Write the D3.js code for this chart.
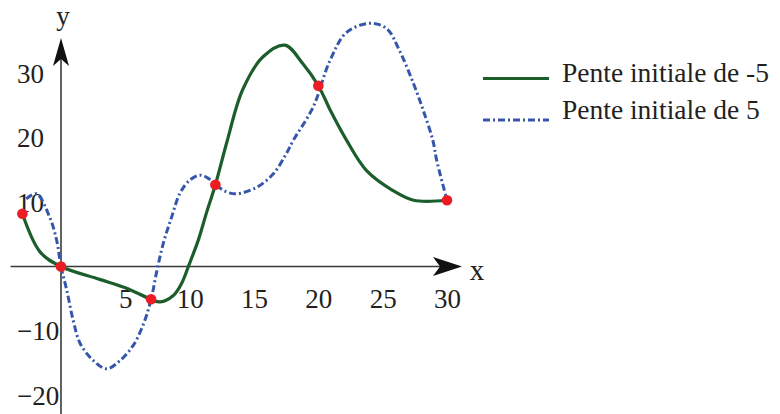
<!DOCTYPE html>
<html>
<head>
<meta charset="utf-8">
<script src="https://cdn.jsdelivr.net/npm/d3@7"></script>
<style>
  html, body { margin: 0; padding: 0; background: #fff; }
  svg { display: block; }
  text { font-family: "Liberation Serif", "Times New Roman", serif; fill: #231f20; }
</style>
</head>
<body>
<svg id="chart" width="780" height="414"></svg>
<script>
// ---- data ----
const xTickValues = [5, 10, 15, 20, 25, 30];
const yTickValues = [30, 20, 10, -10, -20];

const greenX = [-3, -1.6, 0, 3, 5, 7, 7.7, 8.73, 9.38, 9.9, 10.67, 11.3, 12, 12.9, 14.1, 15.7, 17.4, 18.8, 20, 21, 22.2, 23.75, 25.8, 27.4, 30];
const greenY = [8.2, 2.2, 0, -2.0, -3.3, -5.1, -5.5, -4.5, -2.6, 0, 4.1, 8.3, 12.7, 19.4, 27.4, 32.6, 34.4, 31.5, 28.1, 24, 19.6, 14.9, 11.8, 10.3, 10.3];

const blueX = [-2.7, -1.9, -0.85, -0.33, 0, 0.45, 0.95, 1.5, 2.5, 3.55, 4.6, 5.6, 6.4, 7, 7.44, 7.95, 8.6, 9.25, 10.0, 10.8, 11.45, 12, 12.87, 13.65, 15.2, 16.5, 17.5, 18.05, 19.6, 20.9, 22.2, 24, 25.3, 26.3, 27.4, 28.15, 28.9, 29.2, 30];
const blueY = [10.5, 11.3, 7.5, 4.0, 0, -3.7, -8.4, -12, -14.6, -15.9, -14.6, -12.3, -9.0, -5.1, -0.8, 3.6, 7.7, 11.4, 13.4, 14.2, 13.7, 12.7, 11.6, 11.3, 12.3, 14.4, 17.5, 19.6, 24.8, 32, 36.4, 37.8, 37, 33.6, 28.4, 24.3, 19.6, 16.5, 10.3];

const dotX = [-3, 0, 7, 12, 20, 30];
const dotY = [8.2, 0, -5.1, 12.7, 28.1, 10.3];

const seriesNames = ["Pente initiale de -5", "Pente initiale de 5"];
const seriesColors = ["#1b5e2b", "#3556aa"];
const axisLabels = ["x", "y"];

// ---- scales ----
const svg = d3.select("#chart");
const x = d3.scaleLinear().domain([0, 30]).range([61, 447]);
const y = d3.scaleLinear().domain([0, 30]).range([266.5, 73.5]);

const axisColor = "#3a3a3a";
const x0 = x(0), y0 = y(0);
const xEnd = 462, yTop = 38;

// ---- axes lines ----
svg.append("line").attr("x1", 10.5).attr("x2", xEnd - 10).attr("y1", y0).attr("y2", y0)
  .attr("stroke", axisColor).attr("stroke-width", 1.6);
svg.append("line").attr("x1", x0).attr("x2", x0).attr("y1", 414).attr("y2", yTop + 10)
  .attr("stroke", axisColor).attr("stroke-width", 1.6);

// arrowheads
svg.append("path")
  .attr("d", `M${xEnd},${y0} L${xEnd - 29},${y0 - 9.5} L${xEnd - 22},${y0} L${xEnd - 29},${y0 + 9.5} Z`)
  .attr("fill", "#111");
svg.append("path")
  .attr("d", `M${x0},${yTop} L${x0 - 8},${yTop + 28} L${x0},${yTop + 21} L${x0 + 8},${yTop + 28} Z`)
  .attr("fill", "#111");

// axis titles
svg.append("text").attr("x", 477).attr("y", 280).attr("text-anchor", "middle")
  .attr("font-size", 29).text(axisLabels[0]);
svg.append("text").attr("x", 63).attr("y", 25).attr("text-anchor", "middle")
  .attr("font-size", 27).text(axisLabels[1]);

// tick labels via d3 axes (no tick lines, no domain)
const xAxis = d3.axisBottom(x).tickValues(xTickValues).tickSize(0).tickPadding(0);
const gx = svg.append("g").attr("transform", `translate(0,${y0})`).call(xAxis);
gx.select(".domain").remove();
gx.selectAll("text").attr("font-size", 27).attr("dy", null).attr("y", 41.5)
  .style("font-family", "'Liberation Serif', serif").attr("fill", "#231f20");

const yAxis = d3.axisLeft(y).tickValues(yTickValues).tickSize(0).tickPadding(0);
const gy = svg.append("g").attr("transform", `translate(${x0},0)`).call(yAxis);
gy.select(".domain").remove();
gy.selectAll("text").attr("font-size", 27).attr("text-anchor", "start")
  .attr("x", 17 - x0).attr("dy", "0.33em")
  .style("font-family", "'Liberation Serif', serif").attr("fill", "#231f20");

// ---- curves ----
const line = d3.line().x(d => x(d[0])).y(d => y(d[1])).curve(d3.curveCatmullRom.alpha(0.5));
const greenData = greenX.map((v, i) => [v, greenY[i]]);
const blueData = blueX.map((v, i) => [v, blueY[i]]);

svg.append("path").datum(blueData).attr("d", line)
  .attr("fill", "none").attr("stroke", seriesColors[1]).attr("stroke-width", 3)
  .attr("stroke-dasharray", "7,3,2,3");
svg.append("path").datum(greenData).attr("d", line)
  .attr("fill", "none").attr("stroke", seriesColors[0]).attr("stroke-width", 3.2);

// ---- dots ----
svg.selectAll("circle.pt").data(dotX.map((v, i) => [v, dotY[i]])).enter()
  .append("circle").attr("class", "pt")
  .attr("cx", d => x(d[0])).attr("cy", d => y(d[1])).attr("r", 5.3)
  .attr("fill", "#ec1c24");

// ---- legend ----
const legY = [78.5, 120];
const legTextY = [82, 118.5];
seriesNames.forEach((name, i) => {
  svg.append("line").attr("x1", 483).attr("x2", 549).attr("y1", legY[i]).attr("y2", legY[i])
    .attr("stroke", seriesColors[i]).attr("stroke-width", 3)
    .attr("stroke-dasharray", i === 1 ? "7,3,2,3" : null);
  svg.append("text").attr("x", 562).attr("y", legTextY[i]).attr("font-size", 27.5).text(name);
});
</script>
</body>
</html>
